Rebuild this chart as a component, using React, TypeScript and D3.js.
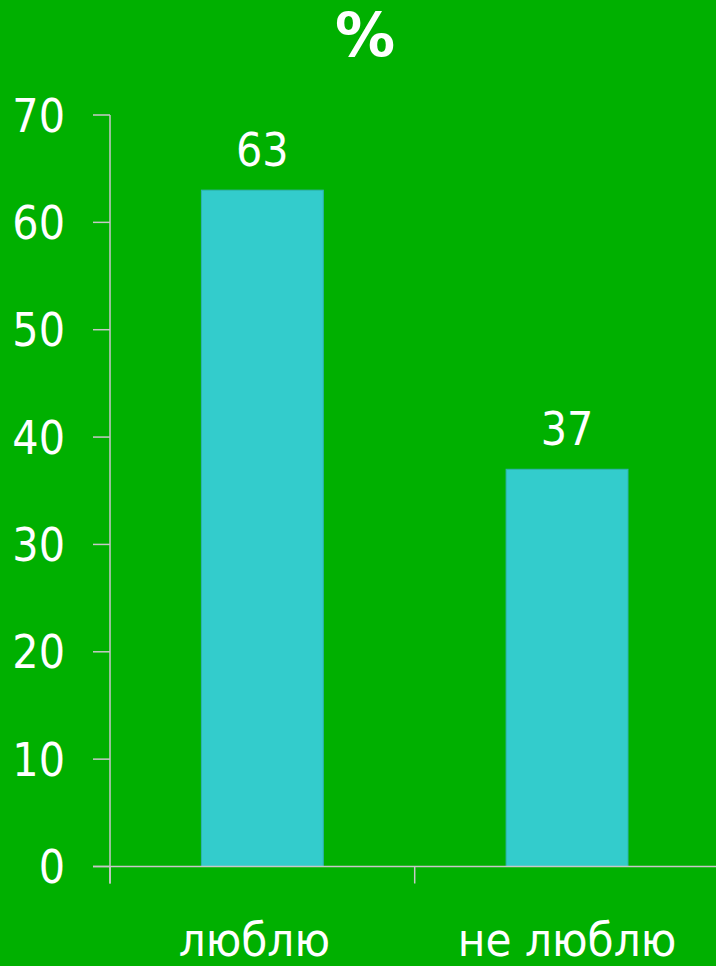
import React from "react";
import * as d3 from "d3";

const categories = ["люблю", "не люблю"];
const values = [63, 37];
const yTicks = [0, 10, 20, 30, 40, 50, 60, 70];
const title = "%";

const W = 716;
const H = 966;
const FONT = "'DejaVu Sans Condensed', 'DejaVu Sans', sans-serif";

export default function App() {
  const y = d3.scaleLinear().domain([0, 70]).range([866.5, 115]);
  const x = d3
    .scaleBand<string>()
    .domain(categories)
    .range([110, 719.4])
    .paddingInner(0.6)
    .paddingOuter(0.3);
  const step = x.step();
  const x0 = x.range()[0];
  const boundaries = categories.map((_, i) => x0 + i * step);

  return (
    <div style={{ position: "absolute", left: 0, top: 0 }}>
      <svg width={W} height={H} style={{ display: "block" }}>
        <rect x={0} y={0} width={W} height={H} fill="#00B000" />
        <text x={365} y={56} textAnchor="middle" fill="#fff" fontFamily="'DejaVu Sans', sans-serif" fontWeight="bold" fontSize={60}>
          {title}
        </text>
        {values.map((v, i) => (
          <g key={i}>
            <rect
              x={x(categories[i])}
              y={y(v)}
              width={x.bandwidth()}
              height={y(0) - y(v)}
              fill="#33CCCC"
              stroke="#2FB3B3"
              strokeWidth={1}
            />
            <text
              x={(x(categories[i]) as number) + x.bandwidth() / 2}
              y={y(v) - 24}
              textAnchor="middle"
              fill="#fff"
              fontFamily={FONT}
              fontSize={46}
            >
              {v}
            </text>
          </g>
        ))}
        {/* y axis */}
        <line x1={110} x2={110} y1={y(70)} y2={y(0) + 17} stroke="#C8C8C8" strokeWidth={1.5} />
        {yTicks.map((t) => (
          <g key={t}>
            <line x1={93} x2={110} y1={y(t)} y2={y(t)} stroke="#C8C8C8" strokeWidth={1.5} />
            <text
              x={65}
              y={y(t)}
              dy="0.36em"
              textAnchor="end"
              fill="#fff"
              fontFamily={FONT}
              fontSize={46}
            >
              {t}
            </text>
          </g>
        ))}
        {/* x axis */}
        <line x1={93} x2={W} y1={y(0)} y2={y(0)} stroke="#C8C8C8" strokeWidth={1.5} />
        {boundaries.map((b, i) => (
          <line key={i} x1={b} x2={b} y1={y(0)} y2={y(0) + 17} stroke="#C8C8C8" strokeWidth={1.5} />
        ))}
        {categories.map((c, i) => (
          <text
            key={c}
            x={(x(c) as number) + x.bandwidth() / 2 - (i === 0 ? 8 : 0)}
            y={956}
            textAnchor="middle"
            fill="#fff"
            fontFamily={FONT}
            fontSize={47}
          >
            {c}
          </text>
        ))}
      </svg>
    </div>
  );
}
